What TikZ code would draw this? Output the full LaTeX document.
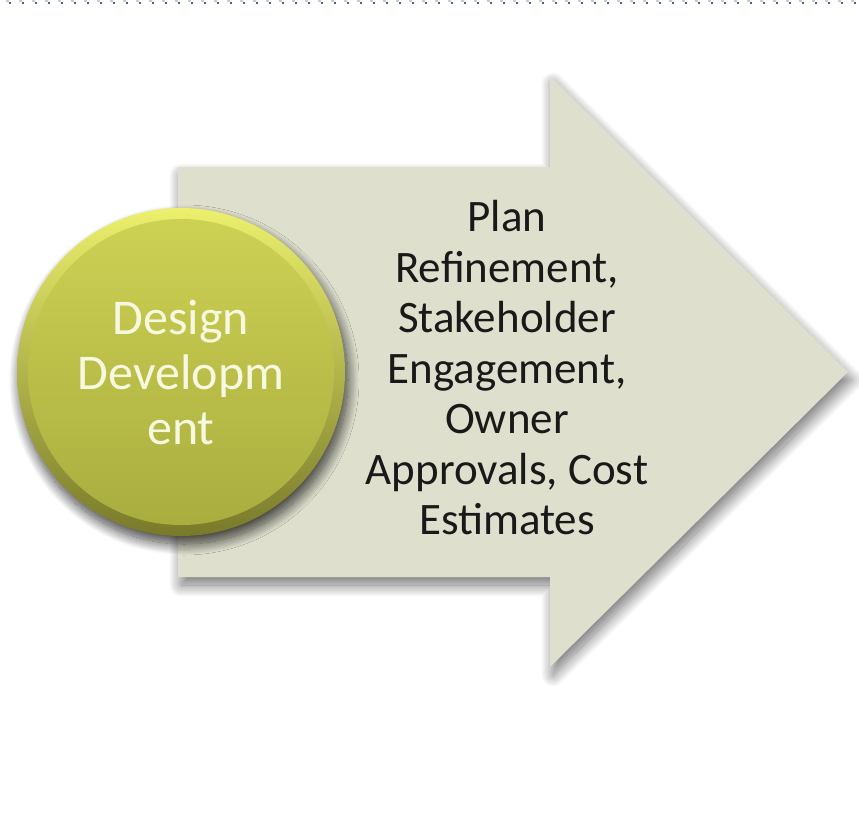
\documentclass[tikz,border=0pt]{standalone}
\usepackage{fontspec}
\setmainfont{Carlito}
\usetikzlibrary{shapes,shadows,shadows.blur}

\definecolor{arrowfill}{RGB}{222,223,205}
\definecolor{olivetop}{RGB}{236,240,108}
\definecolor{olivelow}{RGB}{120,122,42}
\definecolor{innertop}{RGB}{206,210,84}
\definecolor{innerlow}{RGB}{168,172,62}
\definecolor{pale}{RGB}{246,248,224}
\definecolor{dotdark}{RGB}{80,96,124}
\definecolor{dotlight}{RGB}{196,204,216}

\begin{document}
\begin{tikzpicture}[x=1pt,y=-1pt,semithick]
\tikzstyle{bigarrow}=[fill=arrowfill, blur shadow={shadow xshift=3pt, shadow yshift=-8pt,
  shadow blur radius=12pt, shadow blur steps=24, shadow opacity=55, shadow blur extra rounding=0pt}]
\tikzstyle{phase}=[circle, minimum size=328pt, inner sep=0pt, align=center, text=pale,
  font=\fontsize{50}{55}\selectfont, top color=olivetop, bottom color=olivelow,
  blur shadow={shadow xshift=3pt, shadow yshift=-8pt, shadow blur radius=11pt,
    shadow blur steps=24, shadow opacity=75, shadow blur extra rounding=0pt},
  path picture={\shade[top color=innertop, bottom color=innerlow]
    (path picture bounding box.center) circle (153pt);}]
\tikzstyle{tasks}=[align=center, text=black!90, font=\fontsize{45}{50.5}\selectfont]
\useasboundingbox (0,0) rectangle (859,816);
% dotted rule at the top
\draw[dotlight, line width=1.5pt, dash pattern=on 3pt off 10pt, dash phase=-6pt] (0,0.8) -- (859,0.8);
\draw[dotdark, line width=2pt, dash pattern=on 2pt off 11pt, dash phase=-9pt] (0,3.5) -- (859,3.5);
% arrow
\path[bigarrow] (178,167) -- (550,167) -- (550,76) -- (848,372)
  -- (550,667) -- (550,577) -- (178,577) -- cycle;
\node[tasks] (tasks) at (507,368) {Plan\\Refinement,\\Stakeholder\\Engagement,\\Owner\\Approvals, Cost\\Estimates};
\node[phase] (design) at (181,372) {Design\\Developm\\ent};
\end{tikzpicture}
\end{document}
